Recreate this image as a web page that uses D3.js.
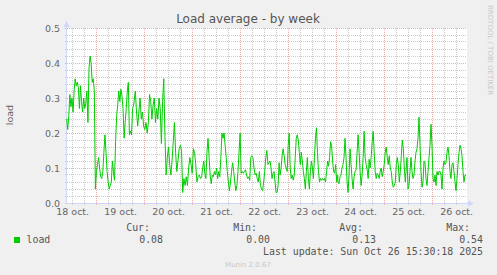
<!DOCTYPE html>
<html>
<head>
<meta charset="utf-8">
<script src="https://cdn.jsdelivr.net/npm/d3@7"></script>
<style>
  html, body { margin: 0; padding: 0; background: #f0f0f0; }
  svg { display: block; }
</style>
</head>
<body>
<script>
// load average samples, one array per stretch of the week
var seg1 = [0.24,0.21,0.25,0.31,0.275,0.30,0.26,0.32,0.355,0.335,0.345,0.33,0.27,0.335,0.29,0.26,0.30,0.27,0.285,0.32,0.23,0.385,0.42,0.40,0.345,0.355,0.32,0.04,0.09,0.11,0.13,0.10,0.075,0.07,0.09,0.145,0.195,0.145,0.09,0.06,0.04,0.05,0.06,0.12,0.09,0.065,0.175,0.25,0.28,0.32,0.29,0.325,0.305,0.27,0.185,0.23,0.27,0.32,0.345,0.195,0.205,0.195,0.27,0.28];
var seg2 = [0.32,0.26,0.22,0.26,0.30,0.24,0.26,0.22,0.21,0.23,0.20,0.23,0.31,0.29,0.24,0.28,0.30,0.23,0.27,0.24,0.30,0.27,0.17,0.29,0.355,0.19,0.08,0.13,0.16,0.11,0.08,0.12,0.175,0.23,0.145,0.09,0.12,0.155,0.165,0.15,0.03,0.07,0.05,0.075,0.05,0.10,0.13,0.11,0.085,0.155,0.145,0.11,0.06,0.075,0.08,0.07,0.075];
var seg3 = [0.10,0.12,0.085,0.07,0.145,0.185,0.13,0.08,0.055,0.08,0.075,0.09,0.08,0.10,0.07,0.09,0.075,0.13,0.20,0.185,0.20,0.165,0.13,0.09,0.06,0.035,0.06,0.09,0.115,0.09,0.06,0.035,0.05,0.09,0.145,0.20,0.085,0.09,0.085,0.09,0.095,0.08,0.07,0.075,0.065,0.13,0.135,0.13,0.10,0.08,0.085,0.07,0.06,0.09,0.05,0.04,0.035,0.06,0.09,0.13,0.15,0.11,0.115];
var seg4 = [0.12,0.10,0.07,0.085,0.09,0.06,0.03,0.03,0.05,0.115,0.08,0.10,0.135,0.155,0.135,0.11,0.10,0.09,0.165,0.20,0.10,0.07,0.08,0.065,0.08,0.13,0.185,0.195,0.18,0.145,0.11,0.145,0.12,0.09,0.07,0.04,0.09,0.13,0.07,0.04,0.09,0.12,0.10,0.07,0.13,0.185,0.215,0.145,0.09,0.06,0.07,0.065,0.07,0.065,0.07,0.06,0.09,0.12,0.105,0.13,0.175,0.165,0.12,0.09,0.085,0.11,0.06,0.08];
var seg5 = [0.06,0.055,0.075,0.08,0.10,0.11,0.13,0.185,0.13,0.06,0.03,0.08,0.155,0.11,0.07,0.04,0.075,0.09,0.095,0.145,0.195,0.145,0.09,0.05,0.08,0.13,0.205,0.13,0.11,0.095,0.07,0.125,0.10,0.13,0.175,0.205,0.145,0.09,0.07,0.085,0.08,0.07,0.09,0.10,0.075,0.09,0.11,0.145,0.16,0.13,0.11,0.135,0.10,0.09,0.06,0.045,0.05,0.06,0.11,0.13,0.11,0.06,0.09,0.135,0.18,0.155,0.10,0.06];
var seg6 = [0.09,0.13,0.04,0.05,0.09,0.13,0.09,0.07,0.08,0.12,0.145,0.155,0.185,0.245,0.165,0.09,0.045,0.06,0.12,0.115,0.07,0.05,0.09,0.13,0.165,0.225,0.165,0.07,0.06,0.08,0.05,0.09,0.08,0.09,0.09,0.08,0.04,0.10,0.12,0.11,0.115,0.145,0.16,0.135,0.09,0.07,0.11,0.115,0.09,0.06,0.035,0.07,0.11,0.145,0.165,0.155,0.135,0.09,0.06,0.08,0.08];

// first and last sample time of each stretch (UTC)
var segSpans = [
    ["2025-10-18T09:00", "2025-10-19T18:30"],
    ["2025-10-19T19:20", "2025-10-21T04:30"],
    ["2025-10-21T05:00", "2025-10-22T14:10"],
    ["2025-10-22T14:40", "2025-10-24T00:30"],
    ["2025-10-24T00:40", "2025-10-25T10:20"],
    ["2025-10-25T10:40", "2025-10-26T16:40"]
];
var timeDomain = ["2025-10-18T09:10", "2025-10-26T17:10"];

var yTicks = [0, 0.1, 0.2, 0.3, 0.4, 0.5];
var legendHeads = ["Cur:", "Min:", "Avg:", "Max:"];
var legendValues = ["0.08", "0.00", "0.13", "0.54"];
var lastUpdate = "Last update: Sun Oct 26 15:30:18 2025";

var parse = d3.utcParse("%Y-%m-%dT%H:%M");
var fr = d3.timeFormatLocale({
    dateTime: "%A %e %B %Y à %X", date: "%d/%m/%Y", time: "%H:%M:%S",
    periods: ["AM", "PM"],
    days: ["dimanche","lundi","mardi","mercredi","jeudi","vendredi","samedi"],
    shortDays: ["dim.","lun.","mar.","mer.","jeu.","ven.","sam."],
    months: ["janvier","février","mars","avril","mai","juin","juillet","août","septembre","octobre","novembre","décembre"],
    shortMonths: ["janv.","févr.","mars","avr.","mai","juin","juil.","août","sept.","oct.","nov.","déc."]
});
var dayFmt = fr.utcFormat("%-d %b");

var width = 497, height = 275;
var plotL = 67, plotR = 467, plotT = 28, plotB = 203;

var svg = d3.select("body").append("svg")
    .attr("width", width)
    .attr("height", height)
    .style("font-family", "'DejaVu Sans', sans-serif");

svg.append("rect").attr("width", width).attr("height", height).attr("fill", "#f0f0f0");

var x = d3.scaleUtc().domain(timeDomain.map(parse)).range([plotL, plotR]);
var y = d3.scaleLinear().domain([0, 0.5]).range([plotB, plotT]);

// build the samples with their times
var samples = [];
[seg1, seg2, seg3, seg4, seg5, seg6].forEach(function(vals, k) {
    var t0 = parse(segSpans[k][0]).getTime(), t1 = parse(segSpans[k][1]).getTime();
    vals.forEach(function(v, i) {
        samples.push({ t: new Date(t0 + (t1 - t0) * i / (vals.length - 1)), v: v });
    });
});

// canvas
svg.append("rect")
    .attr("x", plotL).attr("y", plotT)
    .attr("width", plotR - plotL).attr("height", plotB - plotT)
    .attr("fill", "#ffffff");

var px = function(v) { return Math.floor(v) + 0.5; };
var grid = svg.append("g").attr("shape-rendering", "crispEdges");

// minor grid
var minorY = d3.range(0, 0.5001, 0.02);
grid.selectAll(".hmin").data(minorY).enter().append("line")
    .attr("x1", plotL - 2).attr("x2", plotR)
    .attr("y1", function(d) { return px(y(d)); }).attr("y2", function(d) { return px(y(d)); })
    .attr("stroke", "#cccccc").attr("stroke-dasharray", "1,1");
var minorX = d3.utcHour.every(6).range(x.domain()[0], x.domain()[1]);
grid.selectAll(".vmin").data(minorX).enter().append("line")
    .attr("x1", function(d) { return px(x(d)); }).attr("x2", function(d) { return px(x(d)); })
    .attr("y1", plotT).attr("y2", plotB + 2)
    .attr("stroke", "#cccccc").attr("stroke-dasharray", "1,1");

// major grid
grid.selectAll(".hmaj").data(yTicks).enter().append("line")
    .attr("x1", plotL - 2).attr("x2", plotR)
    .attr("y1", function(d) { return px(y(d)); }).attr("y2", function(d) { return px(y(d)); })
    .attr("stroke", "#efaaaa").attr("stroke-dasharray", "1,1");
var days = d3.utcDay.range(x.domain()[0], x.domain()[1]);
grid.selectAll(".vmaj").data(days).enter().append("line")
    .attr("x1", function(d) { return px(x(d)); }).attr("x2", function(d) { return px(x(d)); })
    .attr("y1", plotT).attr("y2", plotB + 3)
    .attr("stroke", "#efaaaa").attr("stroke-dasharray", "1,1");

// axes
var axisCol = "#cfd6f8";
svg.append("line").attr("x1", plotL - 0.5).attr("x2", plotL - 0.5).attr("y1", plotB + 1).attr("y2", plotT - 5)
    .attr("stroke", axisCol);
svg.append("path").attr("d", "M" + (plotL - 3.5) + "," + (plotT - 1) + "L" + (plotL + 2.5) + "," + (plotT - 1) + "L" + (plotL - 0.5) + "," + (plotT - 7) + "Z")
    .attr("fill", axisCol);
svg.append("line").attr("x1", plotL - 2).attr("x2", plotR + 3).attr("y1", plotB + 0.5).attr("y2", plotB + 0.5)
    .attr("stroke", axisCol);
svg.append("path").attr("d", "M" + (plotR + 1) + "," + (plotB - 2.5) + "L" + (plotR + 1) + "," + (plotB + 3.5) + "L" + (plotR + 7) + "," + (plotB + 0.5) + "Z")
    .attr("fill", axisCol);

// load line
var line = d3.line()
    .x(function(d) { return x(d.t); })
    .y(function(d) { return y(d.v); });
svg.append("path")
    .datum(samples)
    .attr("d", line)
    .attr("fill", "none")
    .attr("stroke", "#00cc00")
    .attr("stroke-width", 1);

// tick labels
svg.selectAll(".ylab").data(yTicks).enter().append("text")
    .attr("x", 60).attr("y", function(d) { return y(d) + 3.5; })
    .attr("text-anchor", "end")
    .attr("font-size", "9.5px").attr("fill", "#666")
    .text(d3.format(".1f"));
svg.selectAll(".xlab").data(days.concat([d3.utcDay.ceil(x.domain()[1])]).map(function(d) { return d3.utcHour.offset(d, -12); })
        .filter(function(d) { return d >= x.domain()[0]; }))
    .enter().append("text")
    .attr("x", function(d) { return x(d); }).attr("y", 215)
    .attr("text-anchor", "middle")
    .attr("font-size", "9.5px").attr("fill", "#666")
    .text(dayFmt);

// titles
svg.append("text").attr("x", 248).attr("y", 23)
    .attr("text-anchor", "middle").attr("font-size", "12px").attr("fill", "#555")
    .text("Load average - by week");
svg.append("text").attr("transform", "translate(13,115) rotate(-90)")
    .attr("text-anchor", "middle").attr("font-size", "9.5px").attr("fill", "#666")
    .text("load");
svg.append("text").attr("transform", "translate(488,5) rotate(90)")
    .attr("text-anchor", "start").attr("font-size", "7px").attr("fill", "#c8c8c8")
    .text("RRDTOOL / TOBI OETIKER");

// legend
var mono = "'DejaVu Sans Mono', monospace";
var headX = [150, 257, 363, 470];
var valX = [163, 270, 376, 483];
svg.selectAll(".lh").data(legendHeads).enter().append("text")
    .attr("x", function(d, i) { return headX[i]; }).attr("y", 231)
    .attr("text-anchor", "end").attr("font-family", mono).attr("font-size", "9.9px").attr("fill", "#555")
    .text(function(d) { return d; });
svg.append("rect").attr("x", 14).attr("y", 237).attr("width", 6).attr("height", 6).attr("fill", "#00cc00");
svg.append("text").attr("x", 26.5).attr("y", 243)
    .attr("font-family", mono).attr("font-size", "9.9px").attr("fill", "#555")
    .text("load");
svg.selectAll(".lv").data(legendValues).enter().append("text")
    .attr("x", function(d, i) { return valX[i]; }).attr("y", 243)
    .attr("text-anchor", "end").attr("font-family", mono).attr("font-size", "9.9px").attr("fill", "#555")
    .text(function(d) { return d; });
svg.append("text").attr("x", 483).attr("y", 255)
    .attr("text-anchor", "end").attr("font-family", mono).attr("font-size", "9.9px").attr("fill", "#555")
    .text(lastUpdate);
svg.append("text").attr("x", 248).attr("y", 267)
    .attr("text-anchor", "middle").attr("font-size", "7px").attr("fill", "#c8c8c8")
    .text("Munin 2.0.67");
</script>
</body>
</html>
